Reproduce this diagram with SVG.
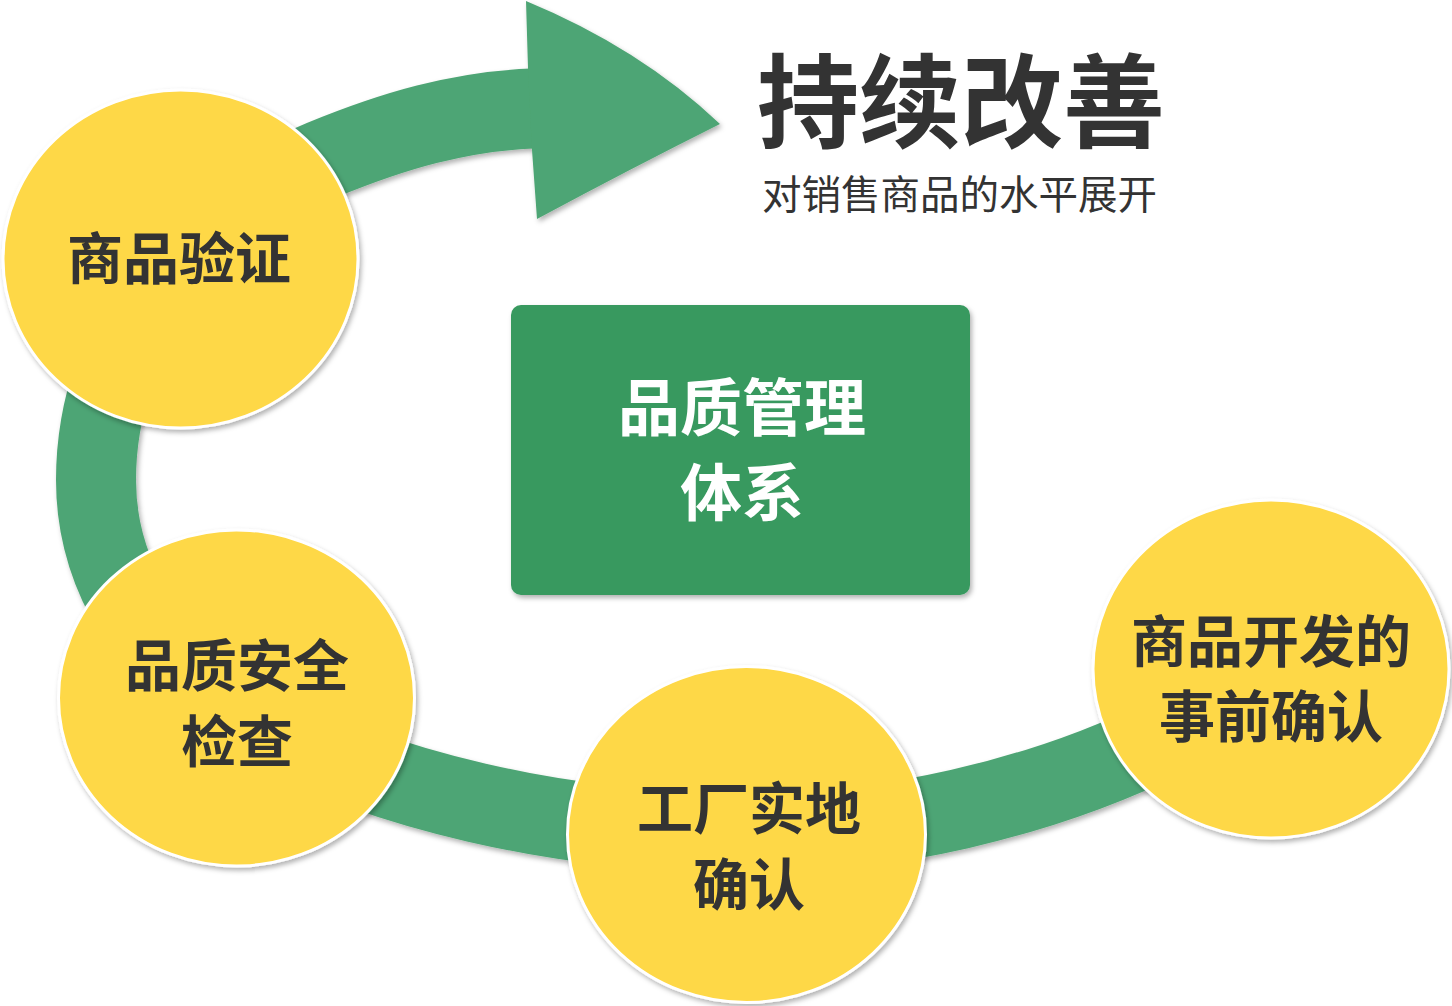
<svg xmlns="http://www.w3.org/2000/svg" width="1452" height="1006" viewBox="0 0 1452 1006">
<defs>
<filter id="sh" x="-10%" y="-10%" width="125%" height="125%">
<feDropShadow dx="2" dy="3" stdDeviation="2.5" flood-color="#000" flood-opacity="0.3"/>
</filter>
<style>
.node{fill:#FED846;stroke:#FFFFFF;stroke-width:3;filter:url(#sh)}
.lbl{font-family:"Noto Sans CJK SC","Noto Sans",sans-serif;font-weight:bold;font-size:56px;fill:#333333;text-anchor:middle}
.band{fill:none;stroke:#4EA574;stroke-width:80}
</style>
</defs>
<g id="connectors" filter="url(#sh)">
<path class="band" d="M 1170,735 C 1040,800 880,835 745,833 C 560,833 380,790 250,720 C 146,664 96,570 96,480 C 96,330 200,210 322,160 C 390,132 460,110 542,108"/>
<path d="M 526,1 Q 640,48 720,124 Q 632,168 537,219 L 532,150 L 528,68 Z" fill="#4EA574"/>
</g>
<g id="title">
<text x="757" y="140" style="font-family:'Noto Sans CJK SC','Noto Sans',sans-serif;font-weight:bold;font-size:102px;fill:#333333">持续改善</text>
<text x="762" y="209" style="font-family:'Noto Sans CJK SC','Noto Sans',sans-serif;font-size:39.5px;fill:#333333">对销售商品的水平展开</text>
</g>
<g id="node-verify">
<ellipse class="node" cx="180.5" cy="259" rx="177.5" ry="169"/>
<text class="lbl" x="179" y="279">商品验证</text>
</g>
<g id="node-safety">
<ellipse class="node" cx="236.5" cy="698" rx="178" ry="168"/>
<text class="lbl" x="237" y="686">品质安全</text>
<text class="lbl" x="237" y="762">检查</text>
</g>
<g id="node-factory">
<ellipse class="node" cx="746.5" cy="834.5" rx="179" ry="168"/>
<text class="lbl" x="749" y="829">工厂实地</text>
<text class="lbl" x="749" y="905">确认</text>
</g>
<g id="node-dev">
<ellipse class="node" cx="1271" cy="669" rx="178" ry="169"/>
<text class="lbl" x="1271" y="662">商品开发的</text>
<text class="lbl" x="1271" y="737">事前确认</text>
</g>
<g id="node-center">
<rect x="511" y="305" width="459" height="290" rx="10" fill="#37995F" filter="url(#sh)"/>
<text class="lbl" x="742" y="431" style="fill:#FFFFFF;font-size:62px">品质管理</text>
<text class="lbl" x="742" y="516" style="fill:#FFFFFF;font-size:62px">体系</text>
</g>
</svg>
